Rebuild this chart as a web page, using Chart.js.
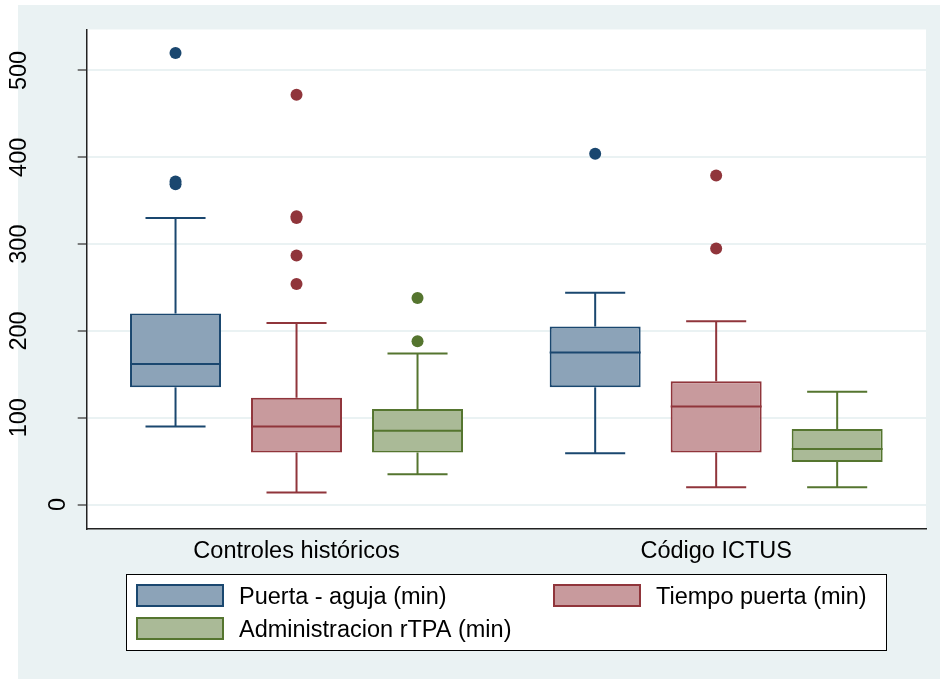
<!DOCTYPE html>
<html>
<head>
<meta charset="utf-8">
<style>
  html, body { margin: 0; padding: 0; background: #ffffff; }
  canvas { display: block; }
</style>
<script src="https://cdn.jsdelivr.net/npm/chart.js@4"></script>
</head>
<body>
<canvas id="chart" width="940" height="679"></canvas>
<script>
// categories and axis
const categories = ["Controles históricos", "Código ICTUS"];
const yTicks = [0, 100, 200, 300, 400, 500];

// Puerta - aguja (min)
const puertaAgujaLow = [90, 59];
const puertaAgujaQ1 = [135, 135];
const puertaAgujaMedian = [162, 175];
const puertaAgujaQ3 = [220, 205];
const puertaAgujaHigh = [330, 244];
const puertaAgujaOutliers = [[369, 372, 520], [404]];

// Tiempo puerta (min)
const tiempoPuertaLow = [14, 20];
const tiempoPuertaQ1 = [60, 60];
const tiempoPuertaMedian = [90, 113];
const tiempoPuertaQ3 = [123, 142];
const tiempoPuertaHigh = [209, 211];
const tiempoPuertaOutliers = [[254, 287, 330, 332, 472], [295, 379]];

// Administracion rTPA (min)
const rtpaLow = [35, 20];
const rtpaQ1 = [60, 49];
const rtpaMedian = [85, 64];
const rtpaQ3 = [110, 87];
const rtpaHigh = [174, 130];
const rtpaOutliers = [[188, 238], []];

const seriesNames = ["Puerta - aguja (min)", "Tiempo puerta (min)", "Administracion rTPA (min)"];
const lineColors = ["#1a476f", "#90353b", "#55752f"];
const fillColors = ["#8ca3b8", "#c89a9d", "#aaba97"];

const stats = [
  { low: puertaAgujaLow, q1: puertaAgujaQ1, med: puertaAgujaMedian, q3: puertaAgujaQ3, high: puertaAgujaHigh, out: puertaAgujaOutliers },
  { low: tiempoPuertaLow, q1: tiempoPuertaQ1, med: tiempoPuertaMedian, q3: tiempoPuertaQ3, high: tiempoPuertaHigh, out: tiempoPuertaOutliers },
  { low: rtpaLow, q1: rtpaQ1, med: rtpaMedian, q3: rtpaQ3, high: rtpaHigh, out: rtpaOutliers },
];

const FONT = '23.5px "Liberation Sans", Arial, sans-serif';
const BG = "#eaf2f3";

function hline(ctx, x1, x2, y) {
  ctx.beginPath(); ctx.moveTo(x1, y); ctx.lineTo(x2, y); ctx.stroke();
}
function vline(ctx, x, y1, y2) {
  ctx.beginPath(); ctx.moveTo(x, y1); ctx.lineTo(x, y2); ctx.stroke();
}

const boxPlotPlugin = {
  id: "boxPlot",
  beforeDraw(chart) {
    const { ctx, chartArea: a } = chart;
    ctx.save();
    ctx.fillStyle = "#ffffff";
    ctx.fillRect(0, 0, chart.width, chart.height);
    ctx.fillStyle = BG;
    ctx.fillRect(18, 5, chart.width - 18, chart.height - 5);
    ctx.fillStyle = "#ffffff";
    ctx.fillRect(a.left, a.top, a.right - a.left, a.bottom - a.top);
    ctx.restore();
  },
  afterDatasetsDraw(chart) {
    const { ctx } = chart;
    const y = chart.scales.y;
    ctx.save();
    chart.data.datasets.forEach((ds, di) => {
      const s = stats[di];
      chart.getDatasetMeta(di).data.forEach((bar, i) => {
        const x = bar.x;
        const half = bar.width / 2;
        const cap = bar.width * 0.33;
        ctx.strokeStyle = lineColors[di];
        ctx.lineWidth = 2;
        // whiskers and caps
        vline(ctx, x, y.getPixelForValue(s.q3[i]), y.getPixelForValue(s.high[i]));
        vline(ctx, x, y.getPixelForValue(s.q1[i]), y.getPixelForValue(s.low[i]));
        hline(ctx, x - cap, x + cap, y.getPixelForValue(s.high[i]));
        hline(ctx, x - cap, x + cap, y.getPixelForValue(s.low[i]));
        // median
        hline(ctx, x - half, x + half, y.getPixelForValue(s.med[i]));
        // outside values
        ctx.fillStyle = lineColors[di];
        s.out[i].forEach(v => {
          ctx.beginPath();
          ctx.arc(x, y.getPixelForValue(v), 6, 0, Math.PI * 2);
          ctx.fill();
        });
      });
    });
    ctx.restore();
  },
  afterDraw(chart) {
    const { ctx, chartArea: a } = chart;
    const y = chart.scales.y;
    const xs = chart.scales.x;
    ctx.save();
    ctx.font = FONT;
    ctx.fillStyle = "#000000";

    // vertical tick labels
    const tickStart = a.left - 9;
    y.ticks.forEach(t => {
      const label = String(t.value);
      const w = ctx.measureText(label).width;
      const cx = tickStart + 0.6 - 1.512 * w;
      ctx.save();
      ctx.translate(cx, y.getPixelForValue(t.value));
      ctx.rotate(-Math.PI / 2);
      ctx.textAlign = "center";
      ctx.textBaseline = "middle";
      ctx.fillText(label, 0, 0);
      ctx.restore();
    });

    // category labels
    ctx.textAlign = "center";
    ctx.textBaseline = "alphabetic";
    categories.forEach((c, i) => {
      ctx.fillText(c, xs.getPixelForValue(i), a.bottom + 29.5);
    });

    // legend
    ctx.fillStyle = "#ffffff";
    ctx.fillRect(126, 574, 761, 77);
    ctx.strokeStyle = "#000000";
    ctx.lineWidth = 1;
    ctx.strokeRect(126.5, 574.5, 760, 76);
    const slots = [[136, 584], [553, 584], [136, 617]];
    chart.data.datasets.forEach((ds, di) => {
      const [sx, sy] = slots[di];
      ctx.fillStyle = fillColors[di];
      ctx.fillRect(sx, sy, 88, 23);
      ctx.strokeStyle = lineColors[di];
      ctx.lineWidth = 2;
      ctx.strokeRect(sx + 1, sy + 1, 86, 21);
      ctx.fillStyle = "#000000";
      ctx.textAlign = "left";
      ctx.fillText(ds.label, sx + 103, sy + 20);
    });
    ctx.restore();
  }
};

const datasets = seriesNames.map((name, di) => ({
  label: name,
  data: stats[di].q1.map((v, i) => [v, stats[di].q3[i]]),
  backgroundColor: fillColors[di],
  borderColor: lineColors[di],
  borderWidth: 2,
  borderSkipped: false,
  categoryPercentage: 0.865,
  barPercentage: 0.752,
}));

new Chart(document.getElementById("chart"), {
  type: "bar",
  data: { labels: categories, datasets: datasets },
  options: {
    responsive: false,
    animation: false,
    layout: { padding: { left: 77.7, right: 14, top: 29.5, bottom: 150.5 } },
    plugins: { legend: { display: false }, tooltip: { enabled: false } },
    scales: {
      x: {
        ticks: { display: false },
        grid: { display: false, drawTicks: false, tickLength: 0 },
        border: { display: true, color: "#222222", width: 1.5 },
      },
      y: {
        min: -27.6,
        max: 547.2,
        afterBuildTicks: (scale) => {
          scale.ticks = yTicks.map(v => ({ value: v }));
        },
        ticks: { display: false },
        grid: {
          color: BG,
          lineWidth: 2,
          drawTicks: true,
          tickLength: 9,
          tickColor: "#555555",
          tickWidth: 1.5,
        },
        border: { display: true, color: "#222222", width: 1.5 },
      },
    },
  },
  plugins: [boxPlotPlugin],
});
</script>
</body>
</html>
